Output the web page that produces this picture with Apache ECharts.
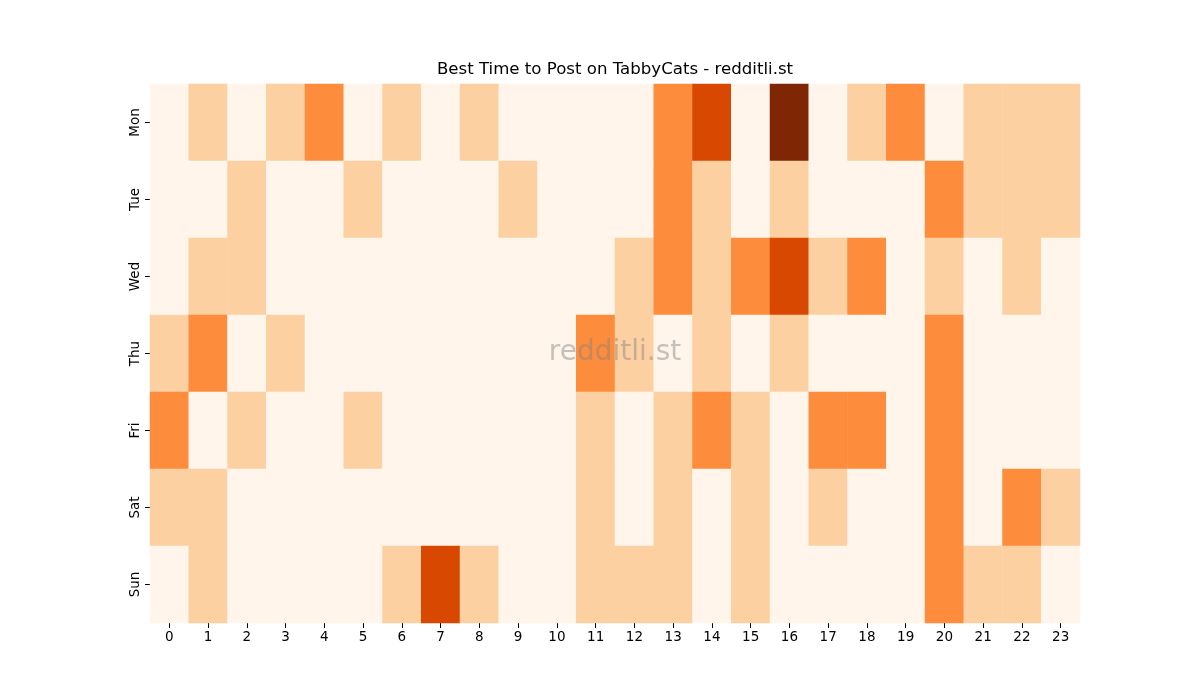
<!DOCTYPE html>
<html>
<head>
<meta charset="utf-8">
<script src="https://cdn.jsdelivr.net/npm/echarts@6/dist/echarts.min.js"></script>
<style>
  html, body { margin: 0; padding: 0; background: #fff; }
  #main { width: 1200px; height: 700px; }
</style>
</head>
<body>
<div id="main"></div>
<script>
// 数据
var hours = ['0','1','2','3','4','5','6','7','8','9','10','11','12','13','14','15','16','17','18','19','20','21','22','23'];
var days = ['Mon', 'Tue', 'Wed', 'Thu', 'Fri', 'Sat', 'Sun'];

var mon = [0,1,0,1,2,0,1,0,1,0,0,0,0,2,3,0,4,0,1,2,0,1,1,1];
var tue = [0,0,1,0,0,1,0,0,0,1,0,0,0,2,1,0,1,0,0,0,2,1,1,1];
var wed = [0,1,1,0,0,0,0,0,0,0,0,0,1,2,1,2,3,1,2,0,1,0,1,0];
var thu = [1,2,0,1,0,0,0,0,0,0,0,2,1,0,1,0,1,0,0,0,2,0,0,0];
var fri = [2,0,1,0,0,1,0,0,0,0,0,1,0,1,2,1,0,2,2,0,2,0,0,0];
var sat = [1,1,0,0,0,0,0,0,0,0,0,1,0,1,0,1,0,1,0,0,2,0,2,1];
var sun = [0,1,0,0,0,0,1,3,1,0,0,1,1,1,0,1,0,0,0,0,2,1,1,0];

var rows = [mon, tue, wed, thu, fri, sat, sun];
var data = [];
rows.forEach(function (row, d) {
    row.forEach(function (v, h) {
        data.push([h, d, v]);
    });
});

var chart = echarts.init(document.getElementById('main'));

var option = {
    backgroundColor: '#ffffff',
    animation: false,
    grid: {
        left: 150,
        top: 84,
        width: 930,
        height: 539
    },
    xAxis: {
        type: 'category',
        data: hours,
        axisLine: { show: false },
        axisTick: { show: true, alignWithLabel: true, length: 5, lineStyle: { color: '#000' } },
        axisLabel: { fontFamily: 'DejaVu Sans', fontSize: 13.5, color: '#000', margin: 7 },
        splitArea: { show: false }
    },
    yAxis: {
        type: 'category',
        data: days,
        inverse: true,
        axisLine: { show: false },
        axisTick: { show: true, alignWithLabel: true, length: 5, lineStyle: { color: '#000' } },
        axisLabel: { fontFamily: 'DejaVu Sans', fontSize: 13.5, color: '#000', rotate: 90, margin: 8 }
    },
    visualMap: {
        type: 'piecewise',
        show: false,
        dimension: 2,
        pieces: [
            { value: 0, color: '#fff5eb' },
            { value: 1, color: '#fdd0a2' },
            { value: 2, color: '#fd8d3c' },
            { value: 3, color: '#d94801' },
            { value: 4, color: '#7f2704' }
        ]
    },
    series: [{
        type: 'heatmap',
        data: data,
        itemStyle: { borderWidth: 0 },
        emphasis: { disabled: true }
    }],
    graphic: [{
        // 标题
        type: 'text',
        x: 615,
        y: 70,
        z: 100,
        style: {
            text: 'Best Time to Post on TabbyCats - redditli.st',
            fontFamily: 'DejaVu Sans',
            fontSize: 16.6,
            fill: '#000',
            textAlign: 'center',
            textVerticalAlign: 'middle'
        }
    }, {
        // 水印
        type: 'text',
        x: 615,
        y: 353,
        z: 100,
        style: {
            text: 'redditli.st',
            fontFamily: 'DejaVu Sans',
            fontSize: 28,
            fill: 'rgba(128,128,128,0.45)',
            textAlign: 'center',
            textVerticalAlign: 'middle'
        }
    }]
};

chart.setOption(option);
</script>
</body>
</html>
